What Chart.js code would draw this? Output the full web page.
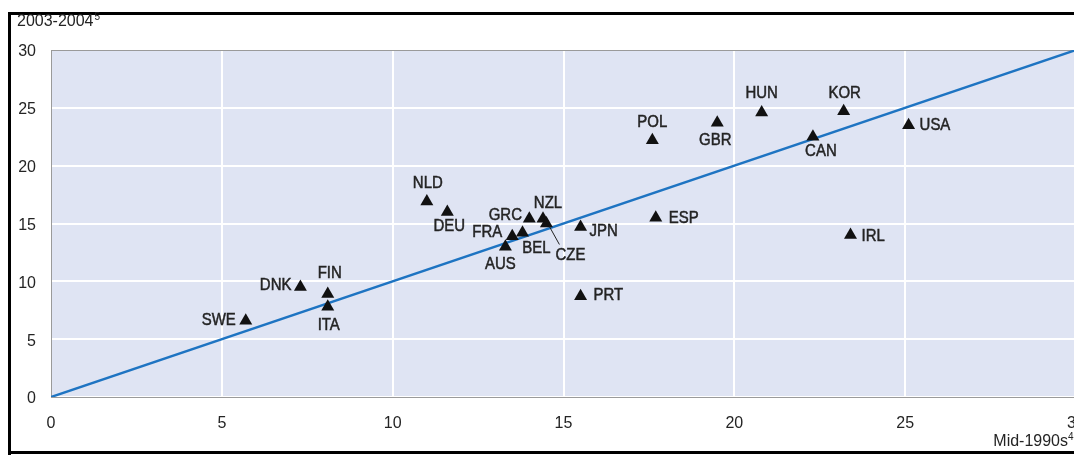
<!DOCTYPE html>
<html>
<head>
<meta charset="utf-8">
<script src="https://cdn.jsdelivr.net/npm/chart.js@4.4.1/dist/chart.umd.min.js"></script>
<style>
  html, body { margin: 0; padding: 0; background: #fff; overflow: hidden; width: 1074px; height: 455px; }
  canvas { display: block; }
</style>
</head>
<body>
<canvas id="c" width="1084" height="455" style="width:1084px;height:455px"></canvas>
<script>
// ---- data ----
const countries = ['SWE','DNK','FIN','ITA','NLD','DEU','GRC','NZL','CZE','FRA','BEL','AUS','JPN','ESP','PRT','POL','GBR','HUN','KOR','CAN','USA','IRL'];
const mid1990s  = [5.7, 7.3, 8.1, 8.1, 11.0, 11.6, 14.0, 14.4, 14.5, 13.5, 13.8, 13.3, 15.5, 17.7, 15.5, 17.6, 19.5, 20.8, 23.2, 22.3, 25.1, 23.4];
const y2003_04  = [6.6, 9.5, 8.9, 7.8, 16.9, 16.0, 15.4, 15.4, 15.0, 13.9, 14.2, 13.0, 14.7, 15.5, 8.7, 22.2, 23.7, 24.6, 24.7, 22.5, 23.5, 14.0];
const diagonal  = [0, 30];
const tickValues = [0, 5, 10, 15, 20, 25, 30];
const yTitle = '2003-2004', yTitleNote = '5';
const xTitle = 'Mid-1990s', xTitleNote = '4';

// ---- label placement (style only) ----
const labelStyle = {
  SWE:[-10,0,'right'], DNK:[-9,-2,'right'], FIN:[2,-21,'center'], ITA:[1,19,'center'],
  NLD:[1,-18,'center'], DEU:[2,14,'center'], GRC:[-24,-4,'center'], NZL:[5,-16,'center'],
  CZE:[24,32,'center'], FRA:[-10,-4,'right'], BEL:[14,16,'center'], AUS:[-5,18,'center'],
  JPN:[9,4,'left'], ESP:[13,1,'left'], PRT:[13,-1,'left'], POL:[0,-18,'center'],
  GBR:[-2,17,'center'], HUN:[0,-19,'center'], KOR:[1,-18,'center'], CAN:[8,15,'center'],
  USA:[11,0,'left'], IRL:[11,1,'left']
};
const FONT = '"Liberation Sans", Arial, sans-serif';
const TXT = '#242424';
const SQUEEZE = 0.88;

function condensedText(ctx, text, x, y, align, squeeze, bold) {
  ctx.save();
  ctx.translate(x, y);
  ctx.scale(squeeze, 1);
  ctx.textAlign = align;
  ctx.fillText(text, 0, 0);
  if (bold) { ctx.lineWidth = 0.5; ctx.strokeStyle = ctx.fillStyle; ctx.strokeText(text, 0, 0); }
  ctx.restore();
}

const framePlugin = {
  id: 'frame',
  beforeDraw(chart) {
    const ctx = chart.ctx, a = chart.chartArea;
    ctx.save();
    ctx.fillStyle = '#fff';
    ctx.fillRect(0, 0, chart.width, chart.height);
    ctx.fillStyle = '#000';
    ctx.fillRect(8, 12, chart.width, 3);
    ctx.fillRect(8, 12, 3, 443);
    ctx.fillRect(8, 451, chart.width, 3);
    ctx.fillStyle = '#dfe4f3';
    ctx.fillRect(a.left, a.top, a.right - a.left, a.bottom - a.top);
    // titles
    ctx.fillStyle = TXT;
    ctx.textBaseline = 'middle';
    ctx.font = '16px ' + FONT;
    condensedText(ctx, yTitle, 17, 22, 'left', 1, false);
    const w = ctx.measureText(yTitle).width;
    ctx.font = '10px ' + FONT;
    condensedText(ctx, yTitleNote, 17 + w + 1, 17, 'left', 1, false);
    condensedText(ctx, xTitleNote, 1068, 437, 'left', 1, false);
    ctx.font = '16px ' + FONT;
    condensedText(ctx, xTitle, 1068, 442, 'right', 1, false);
    ctx.restore();
  },
  beforeDatasetsDraw(chart) {
    const ctx = chart.ctx, a = chart.chartArea;
    ctx.save();
    ctx.strokeStyle = '#9a9a9a';
    ctx.lineWidth = 1;
    ctx.strokeRect(a.left + 0.5, a.top + 0.5, a.right - a.left, a.bottom - a.top);
    ctx.restore();
  },
  afterDatasetsDraw(chart) {
    const ctx = chart.ctx;
    const meta = chart.getDatasetMeta(1);
    ctx.save();
    ctx.fillStyle = TXT;
    ctx.font = '17px ' + FONT;
    ctx.textBaseline = 'middle';
    countries.forEach((c, i) => {
      const p = meta.data[i];
      const s = labelStyle[c];
      condensedText(ctx, c, p.x + s[0], p.y + s[1], s[2], SQUEEZE, true);
      if (c === 'CZE') {
        ctx.strokeStyle = '#222';
        ctx.lineWidth = 1;
        ctx.beginPath();
        ctx.moveTo(p.x + 3, p.y + 3);
        ctx.lineTo(p.x + 13, p.y + 21);
        ctx.stroke();
      }
    });
    ctx.restore();
  }
};

new Chart(document.getElementById('c'), {
  type: 'scatter',
  data: {
    datasets: [
      {
        data: diagonal.map(v => ({ x: v, y: v })),
        showLine: true,
        borderColor: '#1e74c2',
        borderWidth: 2.5,
        pointRadius: 0,
        order: 2
      },
      {
        data: mid1990s.map((v, i) => ({ x: v, y: y2003_04[i] })),
        pointStyle: 'triangle',
        pointRadius: 7.5,
        backgroundColor: '#111',
        borderColor: '#111',
        borderWidth: 0,
        order: 1
      }
    ]
  },
  options: {
    responsive: false,
    animation: false,
    devicePixelRatio: 1,
    layout: { padding: { left: 0, top: 50, right: 8, bottom: 0 } },
    plugins: { legend: { display: false }, tooltip: { enabled: false } },
    scales: {
      x: {
        type: 'linear', min: 0, max: 30,
        afterBuildTicks: s => { s.ticks = tickValues.map(v => ({ value: v })); },
        afterFit: s => { s.height = 58; s.paddingLeft = 0; s.paddingRight = 0; },
        ticks: { color: TXT, font: { family: FONT, size: 16 }, padding: 17, maxRotation: 0 },
        grid: { color: '#ffffff', lineWidth: 2, drawTicks: false },
        border: { display: false }
      },
      y: {
        type: 'linear', min: 0, max: 30,
        afterBuildTicks: s => { s.ticks = tickValues.map(v => ({ value: v })); },
        afterFit: s => { s.width = 51; s.paddingTop = 0; s.paddingBottom = 0; },
        ticks: { color: TXT, font: { family: FONT, size: 16 }, padding: 15, labelOffset: 2 },
        grid: { color: '#ffffff', lineWidth: 2, drawTicks: false },
        border: { display: false }
      }
    }
  },
  plugins: [framePlugin]
});
</script>
</body>
</html>
